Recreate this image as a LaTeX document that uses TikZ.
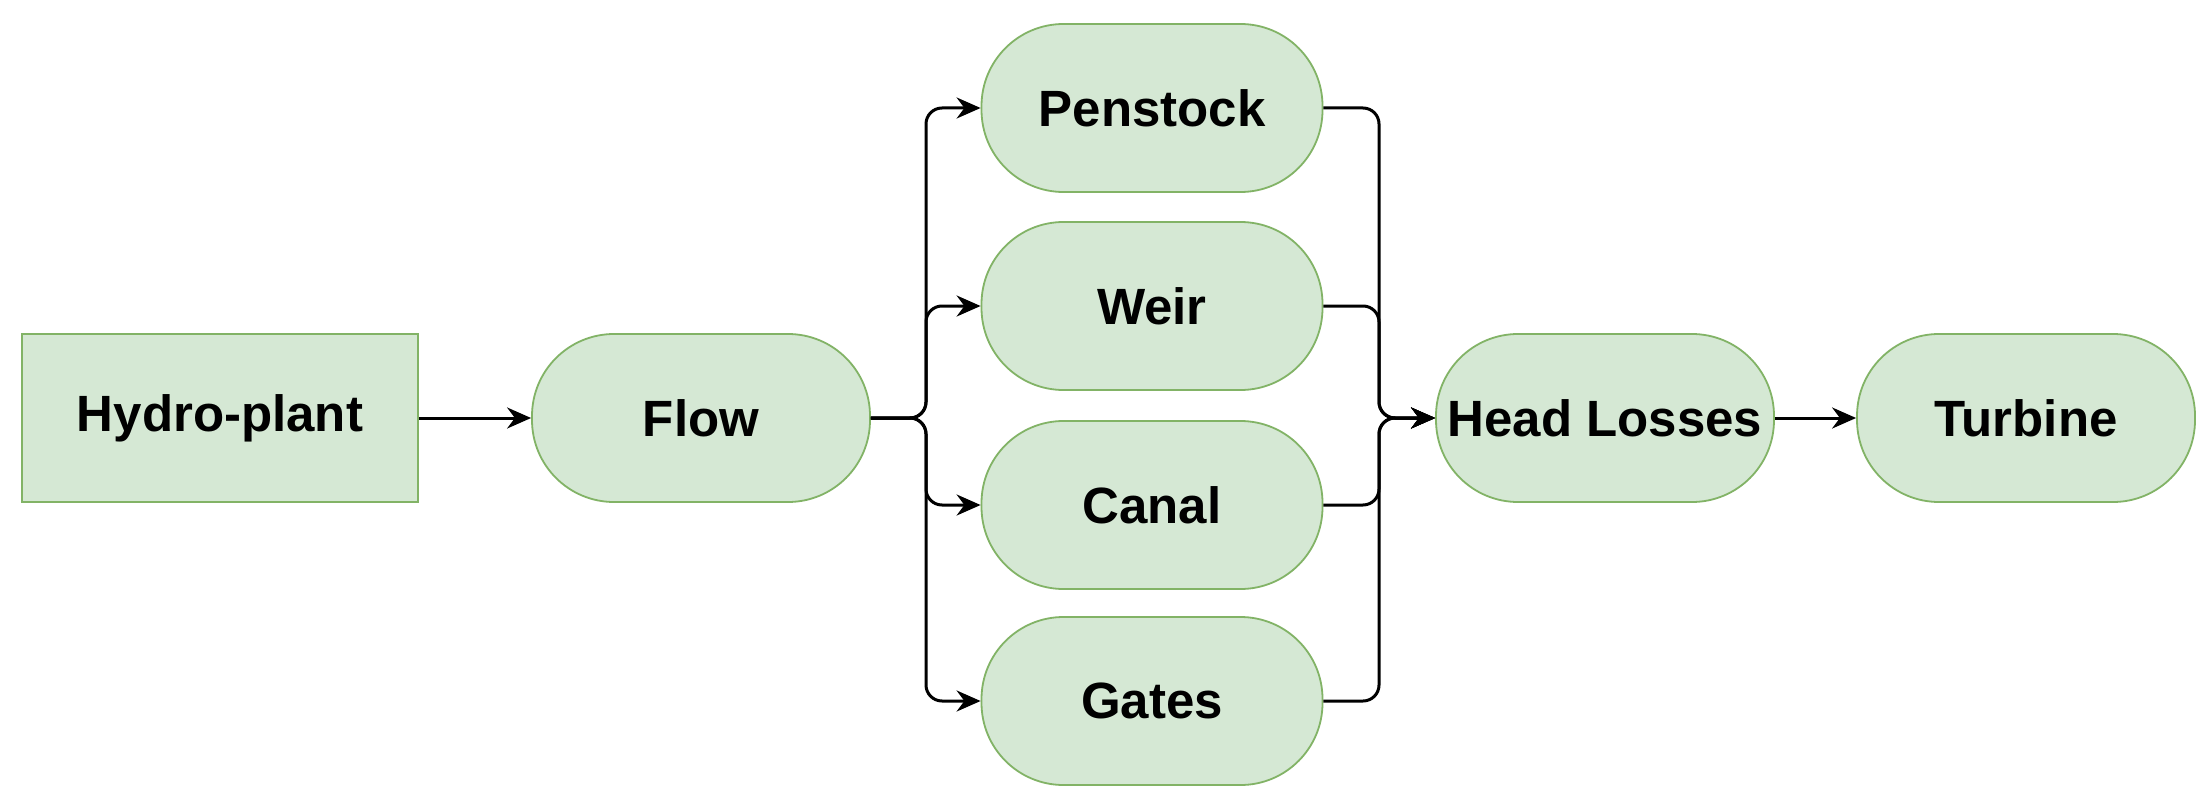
\documentclass[tikz,border=0pt]{standalone}
\usepackage{fontspec}
\setmainfont{Liberation Sans}
\usetikzlibrary{arrows.meta}
\definecolor{boxfill}{HTML}{D5E8D4}
\definecolor{boxline}{HTML}{82B366}
\begin{document}
\begin{tikzpicture}[x=1pt,y=-1pt,
  base/.style={draw=boxline, fill=boxfill, line width=1.8pt, font=\fontsize{51}{60}\selectfont\bfseries, inner sep=0pt, minimum height=168pt},
  term/.style={base, rounded corners=82pt, minimum width=338pt},
  sq/.style={base, minimum width=396pt},
  conn/.style={draw, line width=3pt, -{Stealth[length=24pt,width=21pt]}, rounded corners=16pt}]
\useasboundingbox (0,0) rectangle (2199,789);
\fill[white] (0,0) rectangle (2199,789);
\node[sq] (hp) at (220,418) {Hydro-plant};
\node[term] (flow) at (701,418) {Flow};
\node[term, minimum width=341pt] (pen) at (1152,108) {Penstock};
\node[term, minimum width=341pt] (weir) at (1152,306) {Weir};
\node[term, minimum width=341pt] (canal) at (1152,505) {Canal};
\node[term, minimum width=341pt] (gates) at (1152,701) {Gates};
\node[term] (hl) at (1605,418) {Head Losses};
\node[term] (tur) at (2026,418) {Turbine};
\coordinate (j1) at (926,418);
\coordinate (j2) at (1379,418);
\draw[conn] (hp) -- (flow);
\draw[conn] (flow.east) -- (j1) |- (pen.west);
\draw[conn] (flow.east) -- (j1) |- (weir.west);
\draw[conn] (flow.east) -- (j1) |- (canal.west);
\draw[conn] (flow.east) -- (j1) |- (gates.west);
\draw[conn] (pen.east) -| (j2) -- (hl.west);
\draw[conn] (weir.east) -| (j2) -- (hl.west);
\draw[conn] (canal.east) -| (j2) -- (hl.west);
\draw[conn] (gates.east) -| (j2) -- (hl.west);
\draw[conn] (hl) -- (tur);
\end{tikzpicture}
\end{document}
